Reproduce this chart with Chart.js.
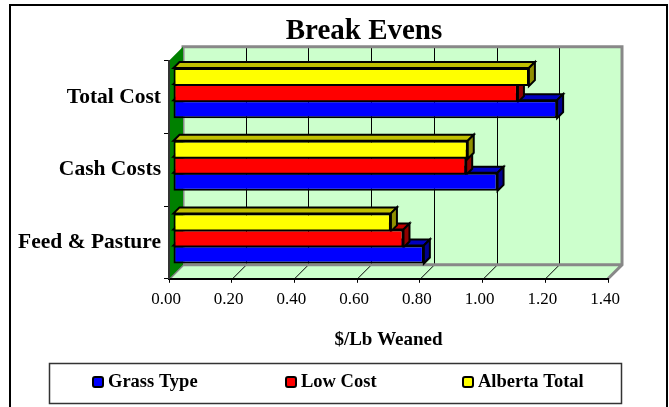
<!DOCTYPE html>
<html>
<head>
<meta charset="utf-8">
<style>
    html, body { margin: 0; padding: 0; background: #fff; }
    canvas { display: block; }
</style>
<script src="https://cdn.jsdelivr.net/npm/chart.js@4"></script>
</head>
<body>
<canvas id="break-evens" width="669" height="407"></canvas>
<script>
const categories = ['Total Cost', 'Cash Costs', 'Feed & Pasture'];
const xTicks = [0, 0.2, 0.4, 0.6, 0.8, 1.0, 1.2, 1.4];
const grassType = [1.225, 1.035, 0.80];
const lowCost = [1.10, 0.935, 0.735];
const albertaTotal = [1.135, 0.94, 0.695];

const SERIF = '"Liberation Serif", "Times New Roman", serif';
const DEPTH = 14;       // wall depth
const BAR_DEPTH = 6;    // depth of each bar
const BAR_SHIFT = 4;    // bars stand a little behind the front plane
const LEGEND_X = [92, 285, 462];

function poly(ctx, pts, fill, stroke, lw) {
    ctx.beginPath();
    pts.forEach((p, i) => i ? ctx.lineTo(p[0], p[1]) : ctx.moveTo(p[0], p[1]));
    ctx.closePath();
    if (fill) { ctx.fillStyle = fill; ctx.fill(); }
    if (stroke) { ctx.strokeStyle = stroke; ctx.lineWidth = lw; ctx.stroke(); }
}

const frame = {
    id: 'frame',
    afterLayout(chart) {
        // the title sits left of the plot centre in the original
        chart.titleBlock.left += 60;
        chart.titleBlock.right += 60;
    },
    beforeDraw(chart) {
        const ctx = chart.ctx;
        ctx.save();
        ctx.fillStyle = '#fff';
        ctx.fillRect(0, 0, chart.width, chart.height);
        ctx.strokeStyle = '#000';
        ctx.lineWidth = 2;
        ctx.strokeRect(10, 5, 657, 410);

        const a = chart.chartArea, x = chart.scales.x;
        const d = DEPTH;
        poly(ctx, [[a.left + d, a.top - d], [a.right + d, a.top - d], [a.right + d, a.bottom - d], [a.left + d, a.bottom - d]], '#ccffcc');
        poly(ctx, [[a.left, a.bottom], [a.right, a.bottom], [a.right + d, a.bottom - d], [a.left + d, a.bottom - d]], '#ccffcc');
        // grid on back wall and floor
        ctx.strokeStyle = '#000';
        ctx.lineWidth = 1;
        xTicks.slice(1, -1).forEach(v => {
            const px = Math.round(x.getPixelForValue(v)) + 0.5;
            ctx.beginPath();
            ctx.moveTo(px + d, a.top - d);
            ctx.lineTo(px + d, a.bottom - d);
            ctx.lineTo(px, a.bottom);
            ctx.stroke();
        });
        // grey wall edges
        ctx.strokeStyle = '#888';
        ctx.lineWidth = 3;
        ctx.beginPath();
        ctx.moveTo(a.left + d, a.bottom - d);
        ctx.lineTo(a.left + d, a.top - d);
        ctx.lineTo(a.right + d, a.top - d);
        ctx.lineTo(a.right + d, a.bottom - d);
        ctx.lineTo(a.right, a.bottom);
        ctx.moveTo(a.right + d, a.bottom - d);
        ctx.lineTo(a.left + d, a.bottom - d);
        ctx.lineTo(a.left, a.bottom);
        ctx.stroke();
        // left wall
        poly(ctx, [[a.left, a.top], [a.left + d, a.top - d], [a.left + d, a.bottom - d], [a.left, a.bottom]], '#008000');
        ctx.restore();
    },
    beforeDatasetsDraw(chart) {
        const ctx = chart.ctx;
        ctx.save();
        ctx.translate(BAR_SHIFT, -BAR_SHIFT);
        const d = BAR_DEPTH;
        // tops and ends first, the library then paints the front faces over them
        chart.data.datasets.slice().reverse().forEach(ds => {
            chart.getDatasetMeta(chart.data.datasets.indexOf(ds)).data.forEach(bar => {
                const h = bar.height / 2;
                const l = bar.base, r = bar.x, t = bar.y - h, b = bar.y + h;
                poly(ctx, [[l, t], [l + d, t - d], [r + d, t - d], [r, t]], ds.topColor, '#000', 2);
                poly(ctx, [[r, t], [r + d, t - d], [r + d, b - d], [r, b]], ds.sideColor, '#000', 2);
            });
        });
    },
    afterDatasetsDraw(chart) {
        chart.ctx.restore();
    },
    afterDraw(chart) {
        // legend box, laid out like the original rather than the built-in row
        const ctx = chart.ctx;
        ctx.save();
        ctx.strokeStyle = '#333';
        ctx.lineWidth = 1.5;
        ctx.strokeRect(49.5, 363.5, 572, 40);
        ctx.font = 'bold 18.5px ' + SERIF;
        ctx.textBaseline = 'middle';
        chart.data.datasets.slice().reverse().forEach((ds, i) => {
            ctx.fillStyle = ds.backgroundColor;
            ctx.strokeStyle = '#000';
            ctx.lineWidth = 2;
            ctx.beginPath();
            ctx.roundRect(LEGEND_X[i] + 1, 377, 10, 10, 2);
            ctx.fill();
            ctx.stroke();
            ctx.fillStyle = '#000';
            ctx.fillText(ds.label, LEGEND_X[i] + 16, 382.5);
        });
        ctx.restore();
    }
};

new Chart(document.getElementById('break-evens').getContext('2d'), {
    type: 'bar',
    data: {
        labels: categories,
        datasets: [
            { label: 'Alberta Total', data: albertaTotal, backgroundColor: '#ffff00', topColor: '#c0c000', sideColor: '#909000' },
            { label: 'Low Cost', data: lowCost, backgroundColor: '#ff0000', topColor: '#c00000', sideColor: '#900000' },
            { label: 'Grass Type', data: grassType, backgroundColor: '#0000ff', topColor: '#0000c0', sideColor: '#000090' }
        ].map(ds => ({
            ...ds,
            borderColor: '#000',
            borderWidth: 2,
            borderSkipped: false,
            categoryPercentage: 0.662,
            barPercentage: 1.125
        }))
    },
    options: {
        indexAxis: 'y',
        responsive: false,
        animation: false,
        devicePixelRatio: 1,
        layout: { padding: { left: 0, right: 61, top: 14, bottom: 56 } },
        scales: {
            x: {
                min: 0,
                max: 1.4,
                afterBuildTicks: s => { s.ticks = xTicks.map(v => ({ value: v })); },
                grid: { display: true, drawOnChartArea: false, drawTicks: true, tickLength: 4, color: '#000' },
                border: { color: '#000', width: 2 },
                ticks: {
                    color: '#000',
                    maxRotation: 0,
                    padding: 7,
                    labelOffset: -3,
                    font: { family: SERIF, size: 17 },
                    callback: v => v.toFixed(2)
                },
                title: {
                    display: true,
                    text: '$/Lb Weaned',
                    color: '#000',
                    font: { family: SERIF, size: 19, weight: 'bold' },
                    padding: { top: 11, bottom: 0 }
                }
            },
            y: {
                afterFit: s => { s.width = 169; },
                grid: { display: true, drawOnChartArea: false, tickLength: 5, color: '#000', offset: true },
                border: { color: '#333', width: 2 },
                ticks: {
                    color: '#000',
                    padding: 3,
                    labelOffset: 0,
                    font: { family: SERIF, size: 21.5, weight: 'bold' }
                }
            }
        },
        plugins: {
            title: {
                display: true,
                text: 'Break Evens',
                color: '#000',
                font: { family: SERIF, size: 29, weight: 'bold' },
                padding: { top: 0, bottom: 12 }
            },
            legend: { display: false },
            tooltip: { enabled: false }
        }
    },
    plugins: [frame]
});
</script>
</body>
</html>
